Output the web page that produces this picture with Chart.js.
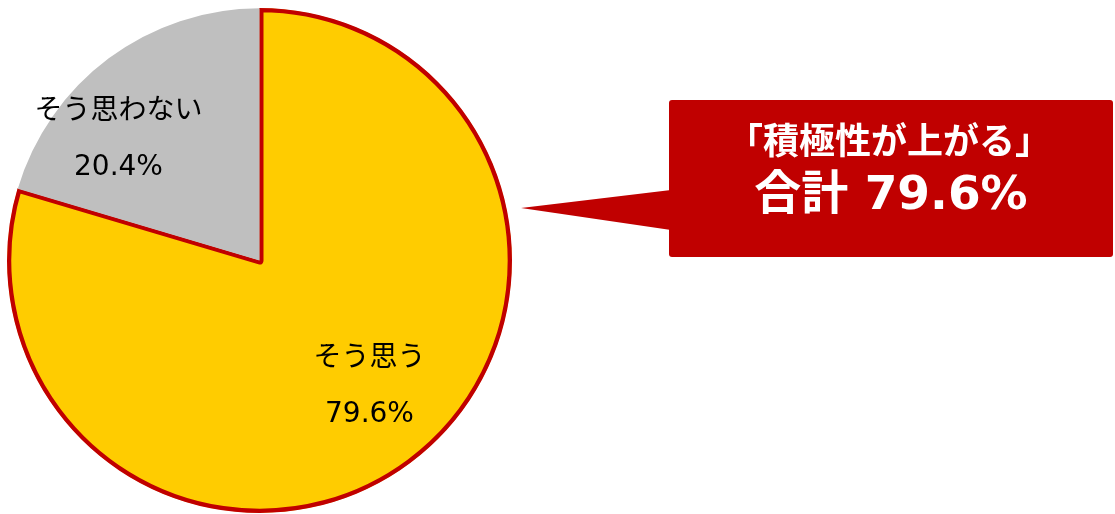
<!DOCTYPE html>
<html>
<head>
<meta charset="utf-8">
<script src="https://cdn.jsdelivr.net/npm/chart.js@4/dist/chart.umd.min.js"></script>
<style>
body { margin: 0; background: #fff; }
#wrap { width: 1115px; height: 514px; }
</style>
</head>
<body>
<div id="wrap"><canvas id="myChart" width="1115" height="514"></canvas></div>
<script>
let labels = ["そう思う", "そう思わない"];
let values = [79.6, 20.4];
let colors = ["#FFCC00", "#BFBFBF"];
let calloutTitle = "「積極性が上がる」";
let calloutPrefix = "合計";

// label offsets from pie centre (style, not data)
let labelOffset = [[110, 126], [-141, -121]];

let sliceLabels = {
	id: "sliceLabels",
	afterDatasetsDraw(chart) {
		let ctx = chart.ctx;
		let arcs = chart.getDatasetMeta(0).data;
		ctx.save();
		ctx.fillStyle = "#000";
		ctx.textAlign = "center";
		ctx.textBaseline = "middle";
		ctx.font = "28px 'DejaVu Sans', 'Noto Sans CJK JP'";
		arcs.forEach((a, i) => {
			let x = a.x + labelOffset[i][0];
			let y = a.y + labelOffset[i][1];
			ctx.fillText(labels[i], x, y - 28);
			ctx.fillText(values[i].toFixed(1) + "%", x, y + 28);
		});
		ctx.restore();
	}
};

let callout = {
	id: "callout",
	afterDraw(chart) {
		let ctx = chart.ctx;
		let x0 = 669, y0 = 100, x1 = 1113, y1 = 257;
		ctx.save();
		ctx.fillStyle = "#C00000";
		ctx.beginPath();
		ctx.roundRect(x0, y0, x1 - x0, y1 - y0, 3);
		ctx.fill();
		ctx.beginPath();
		ctx.moveTo(x0 + 2, 190);
		ctx.lineTo(521, 208);
		ctx.lineTo(x0 + 2, 230);
		ctx.closePath();
		ctx.fill();
		ctx.fillStyle = "#fff";
		ctx.textAlign = "center";
		ctx.textBaseline = "middle";
		ctx.font = "bold 36px 'DejaVu Sans', 'Noto Sans CJK JP'";
		ctx.fillText(calloutTitle, 889, 145);
		ctx.font = "bold 47px 'DejaVu Sans', 'Noto Sans CJK JP'";
		ctx.fillText(calloutPrefix + " " + values[0].toFixed(1) + "%", 891, 197);
		ctx.restore();
	}
};

function makeGraph(){
	new Chart("myChart", {
		type: "pie",
		data: {
			labels: labels,
			datasets: [{
				data: values,
				backgroundColor: colors,
				borderColor: ["#C00000", "#BFBFBF"],
				borderWidth: [4, 0],
				borderAlign: "inner"
			}]
		},
		options: {
			responsive: false,
			animation: false,
			devicePixelRatio: 1,
			layout: { padding: { left: 7, right: 603, top: 8, bottom: 1 } },
			plugins: {
				legend: { display: false },
				tooltip: { enabled: false }
			}
		},
		plugins: [sliceLabels, callout]
	});
}
makeGraph();
</script>
</body>
</html>
